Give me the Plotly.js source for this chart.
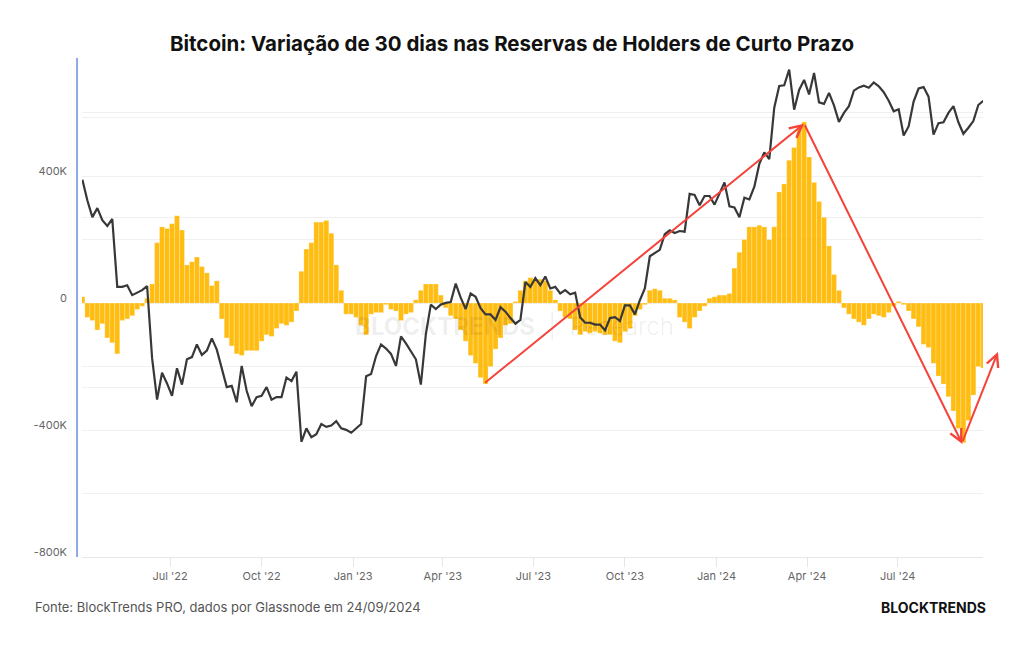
<!DOCTYPE html>
<html>
<head>
<meta charset="utf-8">
<script src="https://cdn.plot.ly/plotly-3.0.1.min.js"></script>
<style>
  html, body { margin: 0; padding: 0; background: #ffffff; }
  #chart { width: 1024px; height: 645px; }
</style>
</head>
<body>
<div id="chart"></div>
<script>
// ---- Data ----
// 30-day change in short-term holder reserves, samples every 5 days starting 2022-04-04 (BTC)
const reserveStart = '2022-04-04';
const reserveStepDays = 5;
const reserveChange = [
  20000, -45000, -55000, -85000, -65000, -110000, -125000, -160000, -55000, -50000,
  -40000, -20000, -10000, 15000, 60000, 190000, 240000, 235000, 250000, 275000,
  230000, 120000, 130000, 145000, 115000, 95000, 55000, 70000, -50000, -110000,
  -135000, -160000, -165000, -150000, -150000, -150000, -120000, -100000, -105000, -80000,
  -65000, -70000, -60000, -25000, 100000, 170000, 190000, 255000, 255000, 260000,
  220000, 120000, 40000, -35000, -35000, -45000, -70000, -100000, -35000, -30000,
  -30000, -5000, -20000, -25000, -55000, -35000, -30000, 10000, 40000, 60000,
  60000, 60000, 25000, -15000, -40000, -50000, -85000, -120000, -165000, -190000,
  -235000, -255000, -200000, -145000, -110000, -70000, -65000, 5000, 40000, 70000,
  80000, 75000, 75000, 70000, 40000, 10000, -25000, -45000, -50000, -85000,
  -100000, -90000, -95000, -90000, -95000, -100000, -100000, -120000, -125000, -90000,
  -80000, -40000, -20000, -5000, 40000, 45000, 40000, 15000, 15000, 10000,
  -45000, -60000, -80000, -45000, -25000, -10000, 15000, 20000, 25000, 25000,
  30000, 110000, 160000, 200000, 240000, 240000, 245000, 240000, 200000, 240000,
  350000, 375000, 450000, 490000, 560000, 570000, 460000, 380000, 320000, 270000,
  180000, 90000, 40000, -15000, -35000, -50000, -60000, -70000, -50000, -35000,
  -40000, -45000, -30000, -10000, 5000, -5000, -25000, -50000, -75000, -130000,
  -140000, -190000, -230000, -255000, -295000, -340000, -395000, -440000, -370000, -290000,
  -200000, -205000
];

// Bitcoin price (USD), samples every 5 days starting 2022-04-04
const priceStart = '2022-04-04';
const priceStepDays = 5;
const btcPrice = [
  46600, 42800, 40000, 41500, 39500, 38600,
  39700, 30100, 30100, 30300, 29100, 29400,
  29700, 30200, 22500, 19000, 21200, 20300,
  19300, 21600, 20200, 22400, 22600, 23800,
  22800, 23200, 24400, 23300, 21500, 20000,
  20100, 18800, 21800, 19700, 18500, 19200,
  19300, 20000, 19000, 19200, 19200, 20800, 20500,
  21300, 16000, 16900, 16300, 16500, 17200,
  17000, 17100, 17400, 16900, 16800, 16600,
  16900, 17200, 20900, 21100, 22700, 23800,
  23400, 22900, 21800, 24600, 23900, 23100,
  22400, 20200, 24800, 28000, 27500, 28000,
  28200, 28300, 30500, 28800, 27500, 29300,
  28900, 27600, 26900, 26900, 26300, 27700,
  27200, 26500, 25900, 26300, 30700, 30100,
  31200, 30300, 31400, 29900, 30100, 29300,
  29700, 29200, 29400, 26600, 26000, 26000,
  25800, 25800, 25200, 26500, 26600, 26200,
  27900, 27900, 26900, 28500, 29900, 34100, 34600,
  35000, 37300, 37900, 37500, 37800, 37700,
  44000, 43800, 42000, 43600, 43600, 42100,
  44200, 46100, 41800, 41600, 40000, 43300,
  43000, 45300, 49700, 52100, 50700, 62500,
  68300, 68500, 73000, 62000, 67200, 70000,
  66000, 72000, 63900, 63500, 66400, 63100,
  59000, 61200, 62900, 67000, 67900, 68400,
  67800, 69300, 68200, 66600, 64300, 61600,
  62100, 55800, 57900, 64100, 67600, 68000,
  65400, 56000, 58700, 58900, 61200, 62900,
  58900, 56200, 57600, 59200, 63200, 64300
];

// Axis ticks
const xTickDates = ['2022-07-01','2022-10-01','2023-01-01','2023-04-01','2023-07-01','2023-10-01','2024-01-01','2024-04-01','2024-07-01'];
const xTickLabels = ["Jul '22","Oct '22","Jan '23","Apr '23","Jul '23","Oct '23","Jan '24","Apr '24","Jul '24"];
const yTickValues = [-800000,-600000,-400000,-200000,0,200000,400000,600000];
const yTickLabels = ['-800K','','-400K','','0','','400K',''];
const priceGridValues = [20000, 40000, 60000];

// Trend arrows: [tailDate, tailValue, headDate, headValue]
const arrowUp = ['2023-05-12', -255000, '2024-03-29', 565000];
const arrowDown = ['2024-03-29', 565000, '2024-09-04', -444000];

// ---- Build dates ----
function seriesDates(start, step, n) {
  const t0 = Date.parse(start + 'T00:00:00Z');
  const out = [];
  for (let i = 0; i < n; i++) out.push(new Date(t0 + i * step * 864e5).toISOString().slice(0, 10));
  return out;
}
const reserveDates = seriesDates(reserveStart, reserveStepDays, reserveChange.length);
const priceDates = seriesDates(priceStart, priceStepDays, btcPrice.length);

const bars = {
  type: 'bar',
  x: reserveDates,
  y: reserveChange,
  width: reserveStepDays * 864e5,
  marker: { color: '#FFB800', line: { color: 'rgba(255,255,255,0.45)', width: 0.5 } },
  opacity: 0.93,
  hoverinfo: 'x+y',
  showlegend: false
};
const price = {
  type: 'scatter',
  mode: 'lines',
  x: priceDates,
  y: btcPrice,
  yaxis: 'y2',
  line: { color: '#383838', width: 2.2 },
  showlegend: false
};

const red = '#f4433a';
const layout = {
  width: 1024, height: 645,
  paper_bgcolor: '#ffffff', plot_bgcolor: '#ffffff',
  margin: { l: 82, r: 41, t: 58, b: 88 },
  font: { family: 'Inter, "Noto Sans", sans-serif', color: '#666666', size: 11 },
  title: {
    text: 'Bitcoin: Variação de 30 dias nas Reservas de Holders de Curto Prazo',
    font: { family: 'Inter, "Noto Sans", sans-serif', size: 20.5, color: '#111111', weight: 700 },
    x: 0.5, xref: 'container', xanchor: 'center',
    y: 1 - 44 / 645, yref: 'container', yanchor: 'middle'
  },
  bargap: 0,
  xaxis: {
    type: 'date',
    range: ['2022-04-03 14:00', '2024-09-24 17:00'],
    tickvals: xTickDates, ticktext: xTickLabels,
    showgrid: false, zeroline: false,
    showline: true, linecolor: '#e6e6e6', linewidth: 1,
    ticks: 'outside', ticklen: 9, tickcolor: '#e6e6e6', tickwidth: 1,
    tickfont: { size: 11, color: '#666666' }
  },
  yaxis: {
    range: [-800000, 772000],
    tickvals: yTickValues, ticktext: yTickLabels,
    showgrid: true, gridcolor: '#f0f0f0', gridwidth: 1,
    zeroline: false, showline: false, ticks: '',
    ticklabelstandoff: 14, ticklabelshift: -5,
    tickfont: { size: 11, color: '#666666' }
  },
  yaxis2: {
    type: 'log', overlaying: 'y', side: 'right',
    range: [4, 4.884],
    tickvals: priceGridValues,
    showticklabels: false, showgrid: true, gridcolor: '#f0f0f0', gridwidth: 1,
    zeroline: false, showline: false, ticks: ''
  },
  shapes: [
    { type: 'line', xref: 'paper', yref: 'paper', x0: -0.0055, x1: -0.0055, y0: 0, y1: 1,
      line: { color: '#8fa8e6', width: 2 } }
  ],
  annotations: [
    { text: '<b>BLOCKTRENDS</b>  <span style="font-weight:300">|  Research</span>', xref: 'paper', yref: 'paper',
      x: 0.48, y: 0.461, showarrow: false,
      font: { size: 24, color: 'rgba(0,0,0,0.08)', family: 'Inter, sans-serif' } },
    { x: arrowUp[2], y: arrowUp[3], ax: arrowUp[0], ay: arrowUp[1],
      xref: 'x', yref: 'y', axref: 'x', ayref: 'y', text: '',
      showarrow: true, arrowhead: 5, arrowsize: 1.2, arrowwidth: 2, arrowcolor: red },
    { x: arrowDown[2], y: arrowDown[3], ax: arrowDown[0], ay: arrowDown[1],
      xref: 'x', yref: 'y', axref: 'x', ayref: 'y', text: '',
      showarrow: true, arrowhead: 5, arrowsize: 1.2, arrowwidth: 2, arrowcolor: red },
    { x: 1.0166, y: 0.411, xref: 'paper', yref: 'paper', ax: -36, ay: 91, text: '',
      showarrow: true, arrowhead: 5, arrowsize: 1.2, arrowwidth: 2, arrowcolor: red },
    { text: 'Fonte: BlockTrends PRO, dados por Glassnode em 24/09/2024',
      xref: 'paper', yref: 'paper', x: (33 - 82) / 901, y: -(607 - 557) / 499,
      xanchor: 'left', yanchor: 'middle', showarrow: false,
      font: { size: 13, color: '#555555', family: 'Inter, sans-serif' } },
    { text: '<b>BLOCKTRENDS</b>',
      xref: 'paper', yref: 'paper', x: (988 - 82) / 901, y: -(607 - 557) / 499,
      xanchor: 'right', yanchor: 'middle', showarrow: false,
      font: { size: 14, color: '#111111', family: 'Inter, sans-serif', weight: 900 } }
  ]
};

Plotly.newPlot('chart', [bars, price], layout, { displayModeBar: false, staticPlot: true });
</script>
</body>
</html>
